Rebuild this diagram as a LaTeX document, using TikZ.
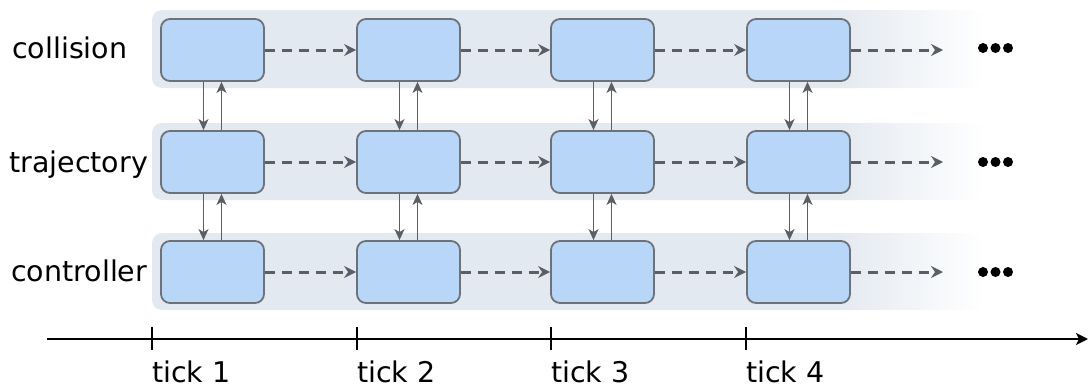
\documentclass[tikz,border=0pt]{standalone}
\usepackage{fontspec}
\setmainfont{DejaVu Sans}
\usetikzlibrary{arrows.meta}
\definecolor{bandc}{HTML}{E3E9F0}
\definecolor{boxc}{HTML}{B8D7F8}
\definecolor{boxb}{HTML}{6E7277}
\definecolor{arrc}{HTML}{5B5F64}
\pgfdeclarehorizontalshading{bandshade}{100bp}{color(0bp)=(bandc); color(25bp)=(bandc); color(66bp)=(bandc); color(75bp)=(white); color(100bp)=(white)}
\tikzset{
  x=1pt, y=-1pt,
  procbox/.style={draw=boxb, fill=boxc, line width=1.8pt, rounded corners=9pt, minimum width=103pt, minimum height=62pt, inner sep=0pt},
  lbl/.style={font=\fontsize{28.5}{33}\selectfont, anchor=base west, inner sep=0pt},
  dasharrow/.style={draw=arrc, line width=3pt, dash pattern=on 10pt off 7pt, -{Stealth[length=12pt,width=12pt,inset=4pt]}},
  vertarrow/.style={draw=arrc, line width=1.8pt, -{Stealth[length=11pt,width=10pt,inset=3pt]}},
  dotc/.style={fill=black, circle, inner sep=0pt, minimum size=10pt},
  band/.style={shading=bandshade, rounded corners=10pt}
}
\begin{document}
\begin{tikzpicture}
\useasboundingbox (0,0) rectangle (1089,388);
% bands
\foreach \t/\b in {10/88, 123/200, 233/310}{
  \shade[band] (152,\t) rectangle (985,\b);
}
% labels
\node[lbl] (lcol) at (12,58) {collision};
\node[lbl] (ltra) at (9,172) {trajectory};
\node[lbl] (lcon) at (11,281) {controller};
% boxes
\foreach \x [count=\i] in {212.5, 408.5, 602.5, 798.5}{
  \node[procbox] (a\i) at (\x,50) {};
  \node[procbox] (b\i) at (\x,162) {};
  \node[procbox] (c\i) at (\x,272) {};
}
% dashed horizontal arrows
\foreach \r in {a,b,c}{
  \foreach \i/\j in {1/2, 2/3, 3/4}{
    \draw[dasharrow] (\r\i.east) -- (\r\j.west);
  }
}
\coordinate (ea) at (943,50);
\coordinate (eb) at (943,162);
\coordinate (ec) at (943,272);
\draw[dasharrow] (a4.east) -- (ea);
\draw[dasharrow] (b4.east) -- (eb);
\draw[dasharrow] (c4.east) -- (ec);
% vertical arrows
\foreach \i in {1,2,3,4}{
  \draw[vertarrow] ([xshift=-9pt]a\i.south) -- ([xshift=-9pt]b\i.north);
  \draw[vertarrow] ([xshift=9pt]b\i.north) -- ([xshift=9pt]a\i.south);
  \draw[vertarrow] ([xshift=-9pt]b\i.south) -- ([xshift=-9pt]c\i.north);
  \draw[vertarrow] ([xshift=9pt]c\i.north) -- ([xshift=9pt]b\i.south);
}
% ellipses
\foreach \y/\n in {48/a, 162/b, 272/c}{
  \node[dotc] (\n d1) at (983,\y) {};
  \node[dotc] (\n d2) at (995.5,\y) {};
  \node[dotc] (\n d3) at (1008,\y) {};
}
% timeline
\coordinate (ts) at (47,339);
\coordinate (te) at (1088,339);
\draw[line width=2.4pt, -{Stealth[length=12pt,width=12pt,inset=3pt]}] (ts) -- (te);
\foreach \x/\k in {152/1, 357/2, 551/3, 746/4}{
  \coordinate (tk\k) at (\x,327);
  \coordinate (tb\k) at (\x,350);
  \draw[line width=1.6pt] (tk\k) -- (tb\k);
  \node[lbl] (tl\k) at (\x,382) {tick \k};
}
\end{tikzpicture}
\end{document}
